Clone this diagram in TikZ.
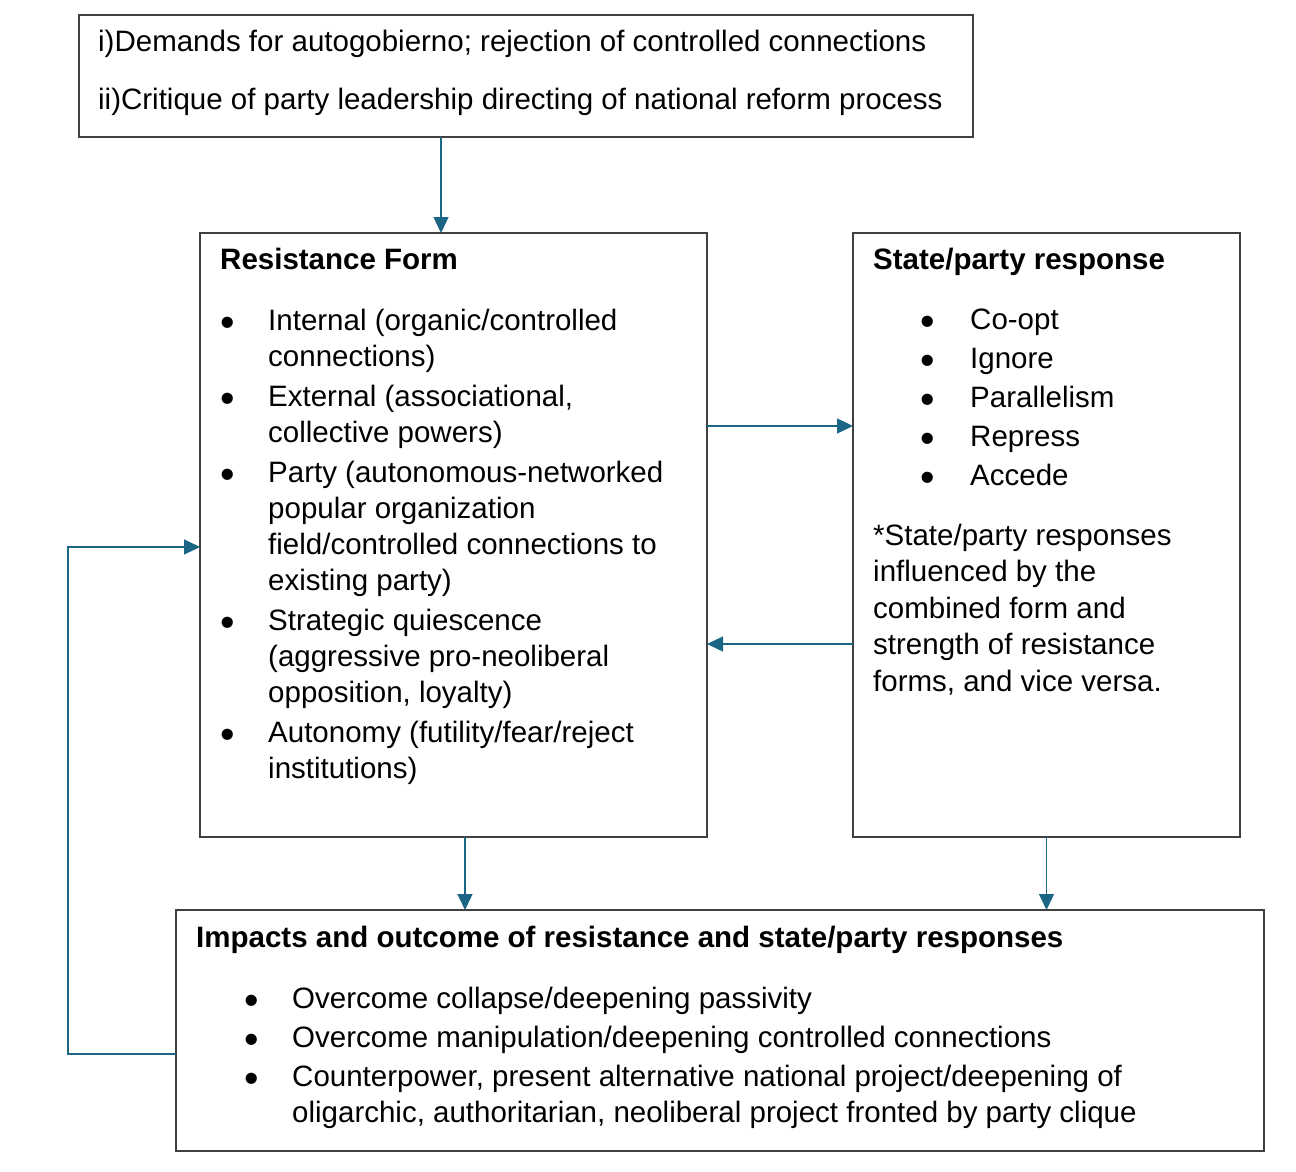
\documentclass[tikz,border=0pt]{standalone}
\usepackage{fontspec}
\setmainfont{Liberation Sans}
\usepackage{tikz}
\usetikzlibrary{arrows.meta,positioning}

\definecolor{flowblue}{RGB}{27,101,133}
\definecolor{framegray}{RGB}{64,64,64}
\newcommand{\bul}{\raisebox{-6.5pt}{\scalebox{1.4}{•}}}

\begin{document}
\begin{tikzpicture}[x=1pt, y=-1pt, >={Triangle[length=16pt,width=15pt]}]
    \tikzstyle{frame} = [
        draw=framegray,
        line width=1.4pt,
        rectangle,
        inner sep=0pt,
        outer sep=0pt
    ]
    \tikzstyle{txt} = [
        inner sep=0pt,
        anchor=base west,
        font=\fontsize{29.5}{36}\selectfont
    ]
    \tikzstyle{flow} = [->, draw=flowblue, line width=1.3pt]

    \useasboundingbox (0,0) rectangle (1296,1172);

    % boxes
    \node[frame, minimum width=894pt, minimum height=122pt] (demands) at (526,76) {};
    \node[frame, minimum width=507pt, minimum height=604pt] (resist) at (453.5,535) {};
    \node[frame, minimum width=387pt, minimum height=604pt] (state) at (1046.5,535) {};
    \node[frame, minimum width=1088pt, minimum height=241pt] (impact) at (720,1030.5) {};

    % texts
    \node[txt] (demandstxt) at (98,52) {\begin{tabular}[t]{@{}l@{}}
        i)Demands for autogobierno; rejection of controlled connections\\[22pt]
        ii)Critique of party leadership directing of national reform process
    \end{tabular}};

    \node[txt] (resisttitle) at (220,269) {\textbf{Resistance Form}};
    \node[txt] (resistlist) at (220,330) {\begin{tabular}[t]{@{}p{48pt}@{}l@{}}
        \bul & Internal (organic/controlled\\
             & connections)\\[4pt]
        \bul & External (associational,\\
             & collective powers)\\[4pt]
        \bul & Party (autonomous-networked\\
             & popular organization\\
             & field/controlled connections to\\
             & existing party)\\[4pt]
        \bul & Strategic quiescence\\
             & (aggressive pro-neoliberal\\
             & opposition, loyalty)\\[4pt]
        \bul & Autonomy (futility/fear/reject\\
             & institutions)
    \end{tabular}};

    \node[txt] (statetitle) at (873,269) {\textbf{State/party response}};
    \node[txt] (statelist) at (920,329) {\begin{tabular}[t]{@{}p{50pt}@{}l@{}}
        \bul & Co-opt\\[3pt]
        \bul & Ignore\\[3pt]
        \bul & Parallelism\\[3pt]
        \bul & Repress\\[3pt]
        \bul & Accede
    \end{tabular}};
    \node[txt, font=\fontsize{29.5}{36.5}\selectfont] (statenote) at (873,545) {\begin{tabular}[t]{@{}l@{}}
        *State/party responses\\
        influenced by the\\
        combined form and\\
        strength of resistance\\
        forms, and vice versa.
    \end{tabular}};

    \node[txt] (impacttitle) at (196,947) {\textbf{Impacts and outcome of resistance and state/party responses}};
    \node[txt, font=\fontsize{29.5}{36.5}\selectfont] (impactlist) at (244,1008) {\begin{tabular}[t]{@{}p{48pt}@{}l@{}}
        \bul & Overcome collapse/deepening passivity\\[2.5pt]
        \bul & Overcome manipulation/deepening controlled connections\\[2.5pt]
        \bul & Counterpower, present alternative national project/deepening of\\
             & oligarchic, authoritarian, neoliberal project fronted by party clique
    \end{tabular}};

    % demands -> resist, resist <-> state, both -> impact, impact -> resist
    \coordinate (demandsout) at ([xshift=-85pt]demands.south);
    \draw[flow] (demandsout) -- (demandsout |- resist.north);

    \draw[flow] ([yshift=109pt]resist.east) -- ([yshift=109pt]state.west);
    \draw[flow] ([yshift=-109pt]state.west) -- ([yshift=-109pt]resist.east);

    \coordinate (resistout) at ([xshift=11.5pt]resist.south);
    \draw[flow] (resistout) -- (resistout |- impact.north);
    \draw[flow] (state.south) -- (state.south |- impact.north);

    \coordinate (loopback) at (68,800);
    \draw[flow] ([yshift=-23.5pt]impact.west) -| (loopback) |- ([yshift=-12pt]resist.west);
\end{tikzpicture}
\end{document}
